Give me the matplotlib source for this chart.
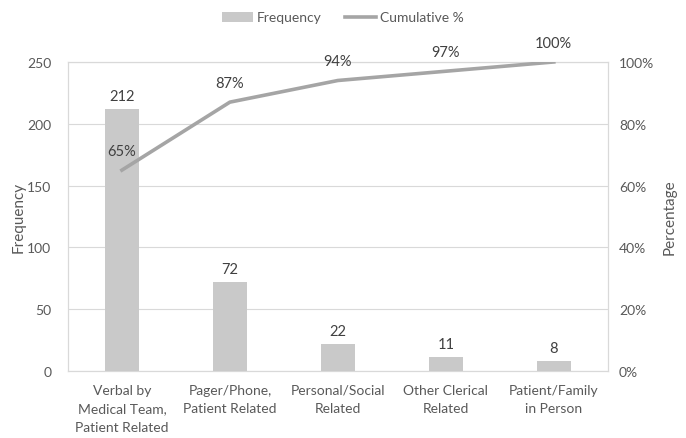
import matplotlib
matplotlib.use('Agg')
import matplotlib.pyplot as plt
from matplotlib.ticker import FuncFormatter

categories = ['Verbal by\nMedical Team,\nPatient Related', 'Pager/Phone,\nPatient Related',
              'Personal/Social\nRelated', 'Other Clerical\nRelated', 'Patient/Family\nin Person']
frequency = [212, 72, 22, 11, 8]
cumulative = [65, 87, 94, 97, 100]

plt.rcParams['font.family'] = ['Lato', 'DejaVu Sans']
text_col = '#595959'
grid_col = '#d9d9d9'

fig = plt.figure(figsize=(6.86, 4.39), dpi=100)
ax = fig.add_axes([0.099, 0.1526, 0.787, 0.704])
x = range(len(categories))

bars = ax.bar(x, frequency, width=0.32, color='#c9c9c9', label='Frequency', zorder=2)
ax.set_ylim(0, 250)
ax.set_xlim(-0.5, len(categories) - 0.5)
ax.set_yticks(range(0, 251, 50))
ax.yaxis.grid(True, color=grid_col, lw=0.8, zorder=0)
ax.set_axisbelow(True)
ax.set_xticks(list(x))
ax.set_xticklabels(categories, fontsize=10, color=text_col, linespacing=1.65)
ax.tick_params(axis='both', length=0, colors=text_col, labelsize=10)
ax.tick_params(axis='x', pad=9)
ax.tick_params(axis='y', pad=12)
ax.set_ylabel('Frequency', fontsize=11, color=text_col, labelpad=1)
for s in ax.spines.values():
    s.set_color(grid_col)
for i, v in enumerate(frequency):
    ax.text(i, v + 5, str(v), ha='center', va='bottom', fontsize=10.5, color='#404040')

ax2 = ax.twinx()
line, = ax2.plot(x, cumulative, color='#a5a5a5', lw=2.6, label='Cumulative %', zorder=3)
ax2.set_ylim(0, 100)
ax2.set_yticks(range(0, 101, 20))
ax2.yaxis.set_major_formatter(FuncFormatter(lambda v, p: f'{int(v)}%'))
ax2.tick_params(axis='y', length=0, colors=text_col, labelsize=10, pad=8)
ax2.set_ylabel('Percentage', fontsize=11, color=text_col, labelpad=6)
for s in ax2.spines.values():
    s.set_color(grid_col)
for i, v in enumerate(cumulative):
    ax2.text(i, v + 4, f'{v}%', ha='center', va='bottom', fontsize=10.5, color='#404040')

fig.legend([bars, line], ['Frequency', 'Cumulative %'], loc='upper center',
           bbox_to_anchor=(0.5, 1.0), ncol=2, frameon=False, fontsize=10,
           labelcolor=text_col, handlelength=2.2, columnspacing=1.7, handletextpad=0.3)

fig.savefig('out.png', dpi=100)
